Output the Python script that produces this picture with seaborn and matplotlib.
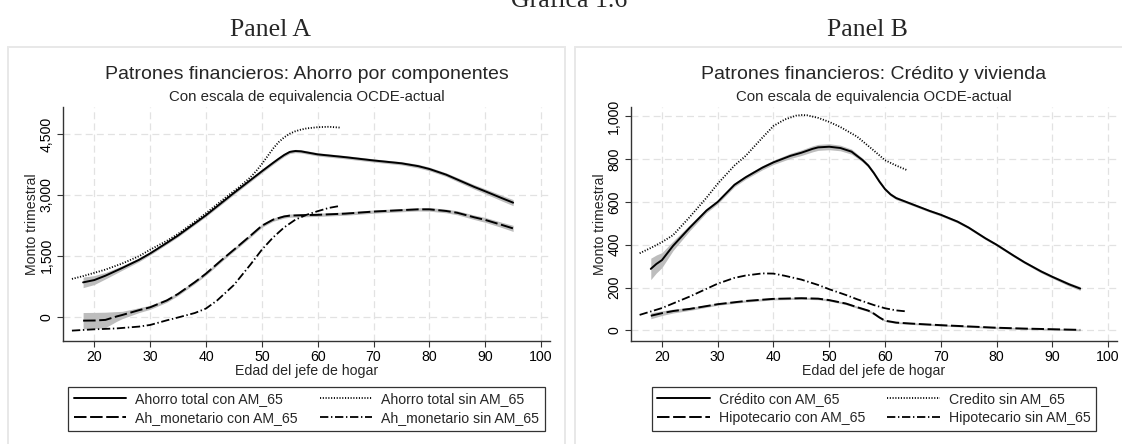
import matplotlib
matplotlib.use("Agg")
import matplotlib.pyplot as plt
import seaborn as sns
import numpy as np
from matplotlib.patches import Rectangle
from matplotlib.ticker import FuncFormatter

# ---------------- data ----------------
# Panel A: Ahorro por componentes
a_tot_con_age = [18, 20, 22, 25, 28, 30, 33, 35, 38, 40, 43, 45, 48, 50, 52, 53, 54, 55, 56, 57,
                 60, 65, 70, 75, 78, 80, 83, 85, 88, 90, 93, 95]
a_tot_con_val = [845, 902, 1010, 1200, 1400, 1558, 1820, 2000, 2300, 2500, 2830, 3050, 3370, 3583,
                 3790, 3890, 3985, 4060, 4083, 4075, 4000, 3930, 3850, 3780, 3710, 3640, 3500,
                 3380, 3200, 3090, 2920, 2810]
a_tot_con_ci = [130, 110, 80, 55, 45, 40, 35, 35, 35, 35, 40, 40, 40, 40, 40, 40, 40, 40, 40, 40,
                40, 40, 40, 40, 45, 45, 45, 50, 55, 60, 70, 75]

a_tot_sin_age = [16, 18, 20, 22, 25, 28, 30, 33, 35, 38, 40, 43, 44, 46, 48, 49, 50, 51, 52, 53,
                 54, 55, 56, 57, 58, 60, 62, 64]
a_tot_sin_val = [930, 1000, 1080, 1160, 1310, 1490, 1650, 1870, 2040, 2340, 2550, 2880, 2990,
                 3200, 3440, 3590, 3760, 3950, 4140, 4300, 4420, 4510, 4570, 4610, 4640, 4670,
                 4680, 4660]

a_mon_con_age = [18, 20, 22, 24, 25, 28, 30, 33, 35, 38, 40, 43, 45, 48, 50, 52, 54, 55, 57, 60,
                 65, 70, 75, 78, 80, 83, 85, 88, 90, 93, 95]
a_mon_con_val = [-98, -95, -80, 5, 41, 160, 230, 400, 560, 850, 1060, 1420, 1650, 2000, 2240,
                 2390, 2470, 2490, 2500, 2510, 2540, 2590, 2625, 2645, 2645, 2605, 2560, 2450,
                 2385, 2260, 2175]
a_mon_con_ci = [200, 200, 190, 120, 90, 60, 50, 45, 40, 40, 40, 40, 40, 40, 40, 40, 40, 40, 40,
                40, 40, 40, 40, 40, 45, 45, 50, 55, 60, 65, 75]

a_mon_sin_age = [16, 20, 24, 28, 30, 33, 35, 38, 40, 42, 45, 48, 50, 52, 54, 56, 58, 60, 62, 64]
a_mon_sin_val = [-344, -312, -290, -245, -205, -90, -20, 90, 200, 400, 780, 1290, 1650, 1950,
                 2200, 2390, 2510, 2600, 2680, 2730]

# Panel B: Crédito y vivienda
b_cre_con_age = [18, 19, 20, 22, 25, 28, 30, 33, 35, 38, 40, 43, 45, 47, 48, 50, 52, 54, 55, 56,
                 57, 58, 59, 60, 61, 62, 64, 65, 68, 70, 73, 75, 78, 80, 83, 85, 88, 90, 93, 95]
b_cre_con_val = [287, 310, 328, 395, 480, 560, 600, 680, 715, 760, 785, 815, 830, 848, 855, 858,
                 852, 835, 815, 795, 770, 735, 695, 660, 635, 618, 598, 588, 558, 540, 508, 480,
                 430, 400, 350, 318, 275, 250, 215, 195]
b_cre_con_ci = [50, 42, 35, 22, 14, 10, 9, 9, 9, 10, 10, 12, 13, 14, 14, 14, 13, 12, 10, 9,
                8, 8, 8, 7, 7, 7, 6, 6, 6, 6, 6, 6, 6, 6, 6, 6, 7, 7, 8, 9]

b_cre_sin_age = [16, 18, 20, 22, 25, 28, 30, 33, 35, 38, 40, 42, 44, 45, 46, 48, 50, 52, 55, 58,
                 60, 62, 64]
b_cre_sin_val = [360, 385, 412, 445, 530, 620, 685, 770, 815, 900, 955, 985, 1003, 1006, 1005,
                 993, 974, 950, 905, 840, 795, 770, 748]

b_hip_con_age = [18, 20, 22, 25, 30, 35, 40, 45, 48, 50, 53, 55, 57, 58, 59, 60, 62, 65, 70, 75,
                 80, 85, 90, 95]
b_hip_con_val = [68, 80, 90, 100, 122, 137, 147, 150, 148, 141, 125, 108, 92, 78, 60, 45, 36, 31,
                 24, 18, 12, 8, 5, 2]
b_hip_con_ci = [14, 11, 9, 7, 5, 5, 5, 5, 5, 5, 5, 5, 5, 5, 4, 4, 4, 4, 4, 4, 4, 4, 4, 4]

b_hip_sin_age = [16, 20, 25, 30, 33, 35, 38, 40, 42, 45, 48, 50, 53, 55, 58, 60, 62, 64]
b_hip_sin_val = [72, 104, 158, 218, 245, 256, 266, 265, 255, 237, 212, 192, 165, 145, 118, 103,
                 93, 88]

x_ticks = [20, 30, 40, 50, 60, 70, 80, 90, 100]
a_yticks = [0, 1500, 3000, 4500]
b_yticks = [0, 200, 400, 600, 800, 1000]

a_labels = ["Ahorro total con AM_65", "Ahorro total sin AM_65",
            "Ah_monetario con AM_65", "Ah_monetario sin AM_65"]
b_labels = ["Crédito con AM_65", "Credito sin AM_65",
            "Hipotecario con AM_65", "Hipotecario sin AM_65"]

# ---------------- style ----------------
sns.set_theme(style="white")
plt.rcParams["font.family"] = ["Liberation Sans", "DejaVu Sans"]
plt.rcParams["lines.scale_dashes"] = False
SERIF = ["Liberation Serif", "DejaVu Serif"]

LS_SOLID = "-"
LS_DOT = (0, (0.8, 1.2))
LS_LONG = (0, (9.0, 2.6))
LS_DASHDOT = (0, (6.0, 1.9, 1.0, 1.9))
BAND = "#bdbdbd"

W, H = 1122, 444
fig = plt.figure(figsize=(W / 100, H / 100), dpi=100)


def px_axes(l, t, r, b):
    return fig.add_axes([l / W, 1 - b / H, (r - l) / W, (b - t) / H])


def px_text(x, y, s, **kw):
    fig.text(x / W, 1 - y / H, s, **kw)


# frames of the two graph regions
for (l, r) in [(8, 565), (575, 1132)]:
    fig.add_artist(Rectangle((l / W, -0.05), (r - l) / W, 1 - 46.7 / H + 0.05,
                             transform=fig.transFigure, fill=False,
                             ec="#e8e8e8", lw=1.4, zorder=0))

axA = px_axes(63, 106.5, 550, 341)
axB = px_axes(630.7, 106.5, 1117, 341)


def draw_panel(ax, series, ylim, yticks, labels):
    handles = []
    for age, val, ci, ls, lw in series:
        age = np.asarray(age, float)
        val = np.asarray(val, float)
        if ci is not None:
            ci = np.asarray(ci, float)
            ax.fill_between(age, val - ci, val + ci, color=BAND, lw=0, zorder=2)
        sns.lineplot(x=age, y=val, ax=ax, color="black", linewidth=lw, linestyle=ls,
                     estimator=None, sort=False, zorder=3)
        handles.append(ax.lines[-1])
    ax.set_xlim(14.4, 101.6)
    ax.set_ylim(*ylim)
    ax.set_xticks(x_ticks)
    ax.set_yticks(yticks)
    ax.yaxis.set_major_formatter(FuncFormatter(lambda v, p: f"{int(round(v)):,}"))
    ax.grid(True, color="#e2e2e2", linestyle=(0, (5, 3)), lw=0.9)
    ax.set_axisbelow(True)
    for s in ["top", "right"]:
        ax.spines[s].set_visible(False)
    for s in ["left", "bottom"]:
        ax.spines[s].set_color("#333333")
        ax.spines[s].set_linewidth(1.0)
    ax.tick_params(axis="both", direction="out", length=4.3, width=0.8, color="#333333",
                   labelsize=10.2, pad=2.5, labelcolor="black")
    ax.tick_params(axis="x", bottom=True)
    ax.tick_params(axis="y", left=True)
    for t in ax.get_yticklabels():
        t.set_rotation(90)
        t.set_va("center")
    ax.set_xlabel("")
    ax.set_ylabel("")
    order = [0, 2, 1, 3]
    leg = ax.legend([handles[i] for i in order], [labels[i] for i in order], ncol=2,
                    loc="upper center", bbox_to_anchor=(0.5, -0.195), frameon=True,
                    fancybox=False, edgecolor="black", fontsize=10.2, handlelength=3.7,
                    handletextpad=0.65, columnspacing=1.55, borderpad=0.4,
                    labelspacing=0.35, borderaxespad=0)
    leg.get_frame().set_linewidth(0.9)


seriesA = [
    (a_tot_con_age, a_tot_con_val, a_tot_con_ci, LS_SOLID, 1.4),
    (a_tot_sin_age, a_tot_sin_val, None, LS_DOT, 1.3),
    (a_mon_con_age, a_mon_con_val, a_mon_con_ci, LS_LONG, 1.4),
    (a_mon_sin_age, a_mon_sin_val, None, LS_DASHDOT, 1.3),
]
seriesB = [
    (b_cre_con_age, b_cre_con_val, b_cre_con_ci, LS_SOLID, 1.4),
    (b_cre_sin_age, b_cre_sin_val, None, LS_DOT, 1.3),
    (b_hip_con_age, b_hip_con_val, b_hip_con_ci, LS_LONG, 1.4),
    (b_hip_sin_age, b_hip_sin_val, None, LS_DASHDOT, 1.3),
]
draw_panel(axA, seriesA, (-600, 5180), a_yticks, a_labels)
draw_panel(axB, seriesB, (-50, 1046), b_yticks, b_labels)

# texts
px_text(569, 7, "Gráfica 1.6", family=SERIF, fontsize=18.5, ha="center", va="baseline")
px_text(271, 35.5, "Panel A", family=SERIF, fontsize=18.5, ha="center", va="baseline")
px_text(867, 35.5, "Panel B", family=SERIF, fontsize=18.5, ha="center", va="baseline")

for cx, title in [(306.5, "Patrones financieros: Ahorro por componentes"),
                  (873.8, "Patrones financieros: Crédito y vivienda")]:
    px_text(cx, 79.3, title, fontsize=14, ha="center", va="baseline")
    px_text(cx, 101, "Con escala de equivalencia OCDE-actual", fontsize=10.8,
            ha="center", va="baseline")
    px_text(cx, 375.5, "Edad del jefe de hogar", fontsize=10.2, ha="center", va="baseline")

px_text(32, 223.7, "Monto trimestral", fontsize=10.2, rotation=90, ha="center", va="center")
px_text(599.7, 223.7, "Monto trimestral", fontsize=10.2, rotation=90, ha="center", va="center")

fig.savefig("out.png", dpi=100, facecolor="white")
